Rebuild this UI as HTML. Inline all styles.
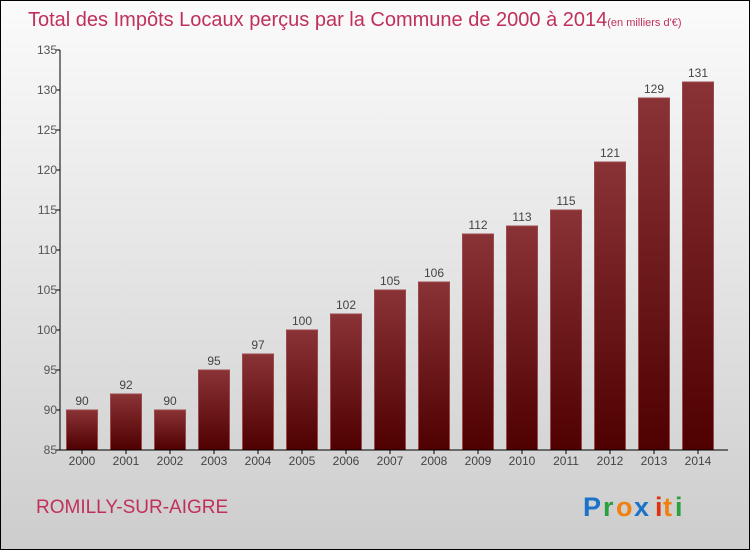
<!DOCTYPE html>
<html><head><meta charset="utf-8"><style>
html,body{margin:0;padding:0;}
body{width:750px;height:550px;overflow:hidden;}
svg{display:block;font-family:"Liberation Sans",sans-serif;}
</style></head><body>
<svg id="chart" width="750" height="550" viewBox="0 0 750 550">
<defs>
<linearGradient id="bg" x1="0" y1="0" x2="0" y2="1"><stop offset="0" stop-color="#fbfbfb"/><stop offset="1" stop-color="#cdcdcd"/></linearGradient>
<linearGradient id="bar" x1="0" y1="0" x2="0" y2="1"><stop offset="0" stop-color="#8a3336"/><stop offset="1" stop-color="#4f0000"/></linearGradient>
</defs>
<rect x="0.5" y="0.5" width="749" height="549" fill="url(#bg)" stroke="#000"/>
<text x="28" y="26" font-size="20" fill="#c0305a">Total des Impôts Locaux perçus par la Commune de 2000 à 2014<tspan font-size="11">(en milliers d'€)</tspan></text>
<g id="bars"></g>
<g id="axes"></g>
<text x="36" y="513" font-size="19" fill="#c0305a">ROMILLY-SUR-AIGRE</text>
<g font-size="27" font-weight="bold">
<text x="583" y="516" fill="#1a73c8">P</text><text x="603" y="516" fill="#2aa040">r</text><text x="616" y="516" fill="#f08010">o</text><text x="634" y="516" fill="#1a73c8">x</text><text x="655" y="516" fill="#e03010">i</text><text x="663" y="516" fill="#f08010">t</text><text x="675" y="516" fill="#2aa040">i</text>
</g>
</svg>
<script>
const years=["2000","2001","2002","2003","2004","2005","2006","2007","2008","2009","2010","2011","2012","2013","2014"];
const values=[90,92,90,95,97,100,102,105,106,112,113,115,121,129,131];
const yTicks=[85,90,95,100,105,110,115,120,125,130,135];
const NS="http://www.w3.org/2000/svg";
const yMin=85,yMax=135,yTop=50,yBot=450,x0=60;
function y(v){return yBot-(v-yMin)/(yMax-yMin)*(yBot-yTop);}
function xc(i){return 82+i*44;}
function mk(t,a,p){const e=document.createElementNS(NS,t);for(const k in a)e.setAttribute(k,a[k]);p.appendChild(e);return e;}
const gb=document.getElementById('bars'),ga=document.getElementById('axes');
values.forEach((v,i)=>{
 const r=mk('rect',{x:xc(i)-15.5,y:y(v),width:31,height:yBot-y(v),fill:'url(#bar)',stroke:'#9a4a4c','stroke-width':1},gb);
 
 
 const t=mk('text',{x:xc(i),y:y(v)-5,'font-size':12,fill:'#444','text-anchor':'middle'},gb);t.textContent=v;
 
 
 const xl=mk('text',{x:xc(i),y:yBot+15,'font-size':12,fill:'#444','text-anchor':'middle'},ga);xl.textContent=years[i];
 
 
 mk('line',{x1:xc(i),x2:xc(i),y1:yBot,y2:yBot+4,stroke:'#000'},ga);
});
yTicks.forEach(v=>{
 mk('line',{x1:x0-4,x2:x0,y1:y(v),y2:y(v),stroke:'#000'},ga);
 const t=mk('text',{x:x0-3,y:y(v)+4,'font-size':12,fill:'#555','text-anchor':'end'},ga);t.textContent=v;
 
 
});
const ya=mk('line',{x1:x0,x2:x0,y1:yTop,y2:yBot,stroke:'#000'},ga);


const xa=mk('line',{x1:x0,x2:728,y1:yBot,y2:yBot,stroke:'#000'},ga);


</script>
</body></html>
